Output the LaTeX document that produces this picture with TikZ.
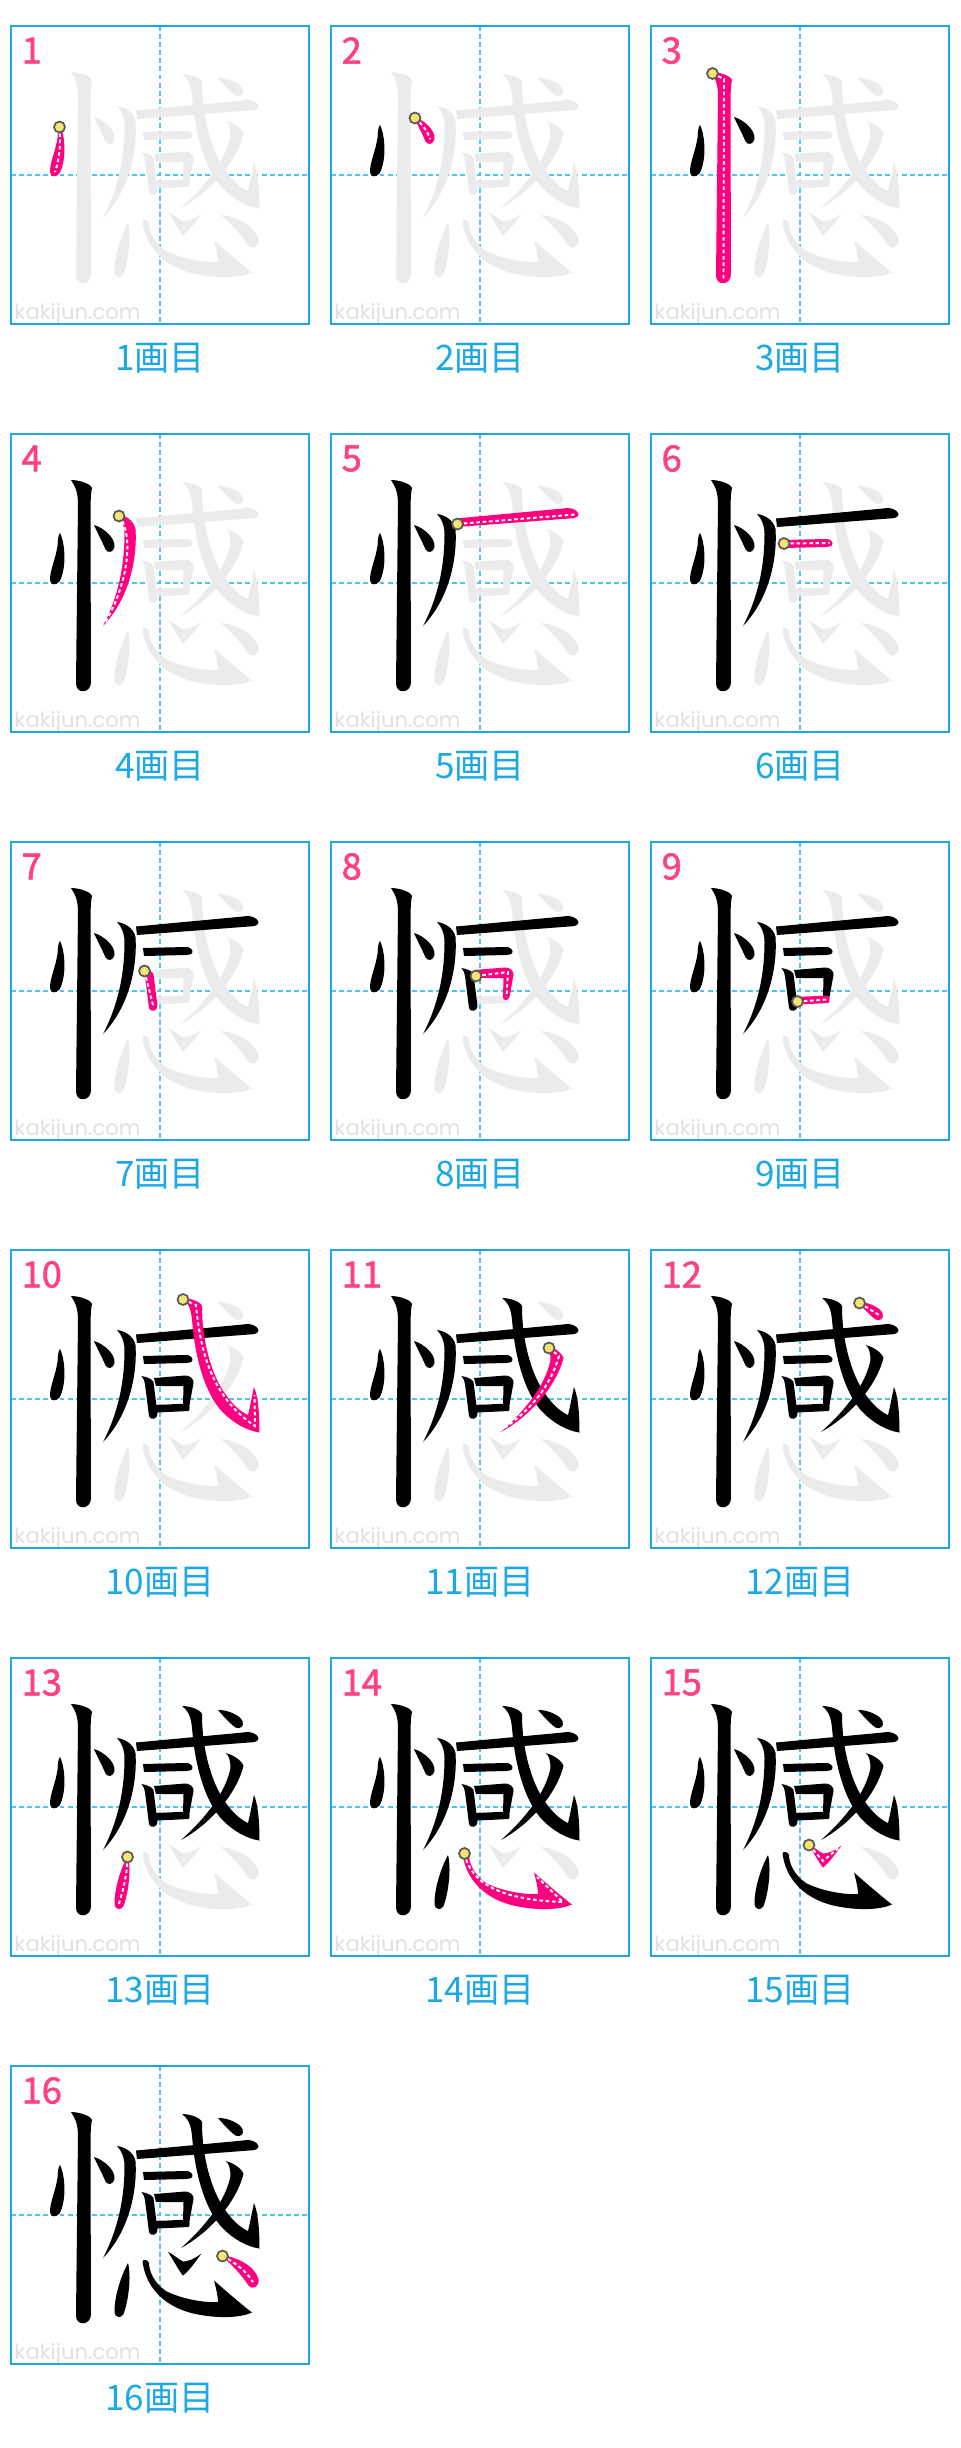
\documentclass[tikz,border=0pt]{standalone}
\usepackage{fontspec}
\setmainfont{Noto Sans CJK JP}
\newfontfamily\wmfont{Poppins}
\newfontfamily\numfont[FakeBold=1.6]{Noto Sans CJK JP}
\usepackage{xcolor}
\usepackage{tikz}
\definecolor{kblue}{RGB}{28,167,229}
\definecolor{gblue}{RGB}{80,195,240}
\definecolor{kpink}{RGB}{255,0,128}
\definecolor{npink}{RGB}{255,64,129}
\definecolor{lgray}{RGB}{235,235,235}
\definecolor{wgray}{RGB}{224,224,224}
\definecolor{dotyel}{RGB}{246,228,112}
\definecolor{mgray}{RGB}{90,90,90}
\tikzset{
  panelbox/.style={draw=kblue, line width=0.6pt},
  guide/.style={draw=gblue, line width=0.55pt, dash pattern=on 1.4pt off 0.9pt},
  done/.style={fill=black},
  todo/.style={fill=lgray},
  now/.style={fill=kpink},
  trace/.style={draw=white, line width=0.55pt, dash pattern=on 1pt off 0.8pt},
  startpt/.style={fill=dotyel, draw=mgray, line width=0.5pt},
  stepno/.style={text=npink, font=\numfont\fontsize{10.3}{11}\selectfont, anchor=west, inner sep=0pt},
  caption/.style={text=kblue, font=\fontsize{10}{11}\selectfont, inner sep=0pt},
  wmark/.style={text=wgray, font=\wmfont\fontsize{6}{7}\selectfont, anchor=base west, inner sep=0pt}
}
% stroke n: outline, start point, centre line from the start
\newcommand\defstroke[4]{%
  \expandafter\def\csname sb#1\endcsname{#2}%
  \expandafter\def\csname ss#1\endcsname{#3}%
  \expandafter\def\csname sc#1\endcsname{#4}}
\defstroke{1}{(49,99) .. controls (54.5,110) and (55.5,135) .. (48.5,147.5) .. controls (45,151.5) and (39.5,151.5) .. (39,146) .. controls (38.5,138) and (44.5,125) .. (46.5,112) .. controls (47,106) and (47,101) .. cycle}
  {(48.5,101)}{.. controls (50,120) and (48,135) .. (44,146)}
\defstroke{2}{(83,91) .. controls (92,93.5) and (104.5,103.5) .. (103.5,113) .. controls (102.5,118.5) and (96.5,119.5) .. (94.5,115.5) .. controls (91.5,108) and (87,100) .. cycle}
  {(84,92)}{.. controls (92,99) and (97,106) .. (99,113)}
\defstroke{3}{(60,46) .. controls (67,46) and (79,49) .. (81,54) .. controls (79.5,60) and (79.5,70) .. (79.5,90) -- (80,248) .. controls (80,259.5) and (65.5,260.5) .. (65,250) -- (67,70) .. controls (67,58) and (64,52) .. cycle}
  {(61.5,47.5)}{-- (73,53) -- (72.5,253)}
\defstroke{4}{(106,80) .. controls (114,81) and (122.5,86) .. (124.5,95) .. controls (126.5,125) and (118,165) .. (92,192) .. controls (103.5,170) and (113.5,140) .. (113.5,100) .. controls (113.5,92) and (111,85) .. cycle}
  {(108,82)}{.. controls (120,95) and (122,140) .. (94,189)}
\defstroke{5}{(125,84.5) -- (232,74.5) .. controls (238,72.5) and (246.5,75.5) .. (247.5,80) .. controls (247.5,83.5) and (243,84.5) .. (238,84.5) -- (126,93) -- cycle}
  {(126.5,90)}{-- (244,80.5)}
\defstroke{6}{(132,106) -- (174,105) .. controls (178,104.5) and (181.5,107) .. (181.5,109.5) .. controls (181.5,112.5) and (178,113) .. (175,113) -- (133,114) -- cycle}
  {(133,109.5)}{-- (178.5,109)}
\defstroke{7}{(130.5,126) .. controls (136,127) and (141.5,129) .. (142.5,132) -- (146.5,164) .. controls (146.5,169.5) and (139,170.5) .. (138,166) -- (134,134) .. controls (133,130) and (132.5,128) .. cycle}
  {(133.5,129)}{-- (142.5,165)}
\defstroke{8}{(143,128) -- (174,125.5) .. controls (178,125) and (183.5,129) .. (182.5,133) -- (178.5,155) .. controls (177.5,159) and (171.5,159) .. (172,155) -- (172.5,136) -- (145,136) -- cycle}
  {(145,134)}{-- (177,130) -- (175.5,155)}
\defstroke{9}{(145,155) -- (177,153.5) .. controls (179,154.5) and (179,160.5) .. (177.5,161) -- (146,162.5) -- cycle}
  {(146.5,159.5)}{-- (177,157.5)}
\defstroke{10}{(171,48) .. controls (178,48) and (189,51) .. (191,56) .. controls (191,90) and (200,125) .. (215,145) .. controls (222,155) and (230,162) .. (237,165) .. controls (239,157) and (241,146) .. (243,137) .. controls (246.5,145) and (248.5,160) .. (248.5,182.5) .. controls (235,180.5) and (222,172.5) .. (212,162.5) .. controls (195,145.5) and (184.5,110) .. (181.5,75) .. controls (180.5,62) and (179,54) .. cycle}
  {(172,49.5)}{-- (185,55) .. controls (190,110) and (205,150) .. (244,176) -- (243.5,145)}
\defstroke{11}{(215,95) .. controls (222,97) and (230.5,102) .. (232.5,108) .. controls (225.5,135.5) and (200,165.5) .. (170,182) .. controls (194.5,160) and (214.5,135) .. (219.5,110) .. controls (219.5,103) and (218,98) .. cycle}
  {(218,98)}{-- (228,106) .. controls (220,135) and (200,160) .. (172,179)}
\defstroke{12}{(207,52) .. controls (215,51.5) and (228.5,56.5) .. (231.5,63) .. controls (233.5,68.5) and (229,71.5) .. (224.5,69.5) .. controls (219,65.5) and (212,58) .. cycle}
  {(208.5,53)}{-- (228,65)}
\defstroke{13}{(117,197) .. controls (120.5,210) and (117.5,235) .. (112.5,248) .. controls (110.5,252.5) and (103.5,252.5) .. (103.5,245) .. controls (103.5,230) and (110,210) .. cycle}
  {(116.5,199)}{.. controls (116,220) and (111,235) .. (108,246)}
\defstroke{14}{(131.5,195) .. controls (134.5,222) and (155,243.5) .. (190,249) .. controls (210,252.5) and (230,251.5) .. (241,246.5) .. controls (230,238) and (215,225) .. (203,214.5) .. controls (205,222) and (207,230) .. (207,236) .. controls (195,237) and (170,233) .. (155,225) .. controls (143,217) and (138,205) .. (138,197) .. controls (137,194) and (133,193) .. cycle}
  {(133.5,195.5)}{.. controls (140,228) and (175,242) .. (232,244) -- (206,219)}
\defstroke{15}{(157,186) .. controls (163,195) and (168,205) .. (172,209.5) .. controls (178,205) and (185,195) .. (190.5,187.5) .. controls (183,193) and (177,195.5) .. (172,195.5) .. controls (167,193) and (162,188) .. cycle}
  {(158,187)}{-- (172,203) -- (187,190.5)}
\defstroke{16}{(210,189) .. controls (225,190.5) and (243.5,199.5) .. (247.5,213) .. controls (248.5,220.5) and (242,224.5) .. (237.5,219.5) .. controls (230,208) and (220,198) .. cycle}
  {(211.5,190)}{.. controls (225,197) and (236,206) .. (242,216)}

\begin{document}
\begin{tikzpicture}[x=0.1mm, y=-0.1mm]
  \useasboundingbox (0,0) rectangle (960,2448);
  \fill[white] (0,0) rectangle (960,2448);
  \foreach \n in {1,...,16}{
    \pgfmathtruncatemacro\row{(\n-1)/3}
    \pgfmathtruncatemacro\col{mod(\n-1,3)}
    \begin{scope}[shift={(11+320*\col,26+408*\row)}]
      \draw[guide] (149,0) -- (149,298);
      \draw[guide] (0,149) -- (298,149);
      \node[wmark] (wm\n) at (3,293.5) {kakijun.com};
      % strokes still to come
      \foreach \k in {1,...,16}{
        \ifnum\k>\n
          \expandafter\let\expandafter\sbody\csname sb\k\endcsname
          \fill[todo] \sbody;
        \fi
      }
      % strokes written so far, and the current one
      \foreach \k in {1,...,16}{
        \expandafter\let\expandafter\sbody\csname sb\k\endcsname
        \ifnum\k<\n
          \fill[done] \sbody;
        \fi
        \ifnum\k=\n
          \expandafter\let\expandafter\sstart\csname ss\k\endcsname
          \expandafter\let\expandafter\scenter\csname sc\k\endcsname
          \fill[now] \sbody;
          \draw[trace] \sstart \scenter;
          \filldraw[startpt] \sstart circle [radius=5.5];
        \fi
      }
      \draw[panelbox] (0,0) rectangle (298,298);
      \node[stepno] (no\n) at (10,24.5) {\n};
      \node[caption] (cap\n) at (149,332) {\n{}画目};
    \end{scope}
  }
\end{tikzpicture}
\end{document}
